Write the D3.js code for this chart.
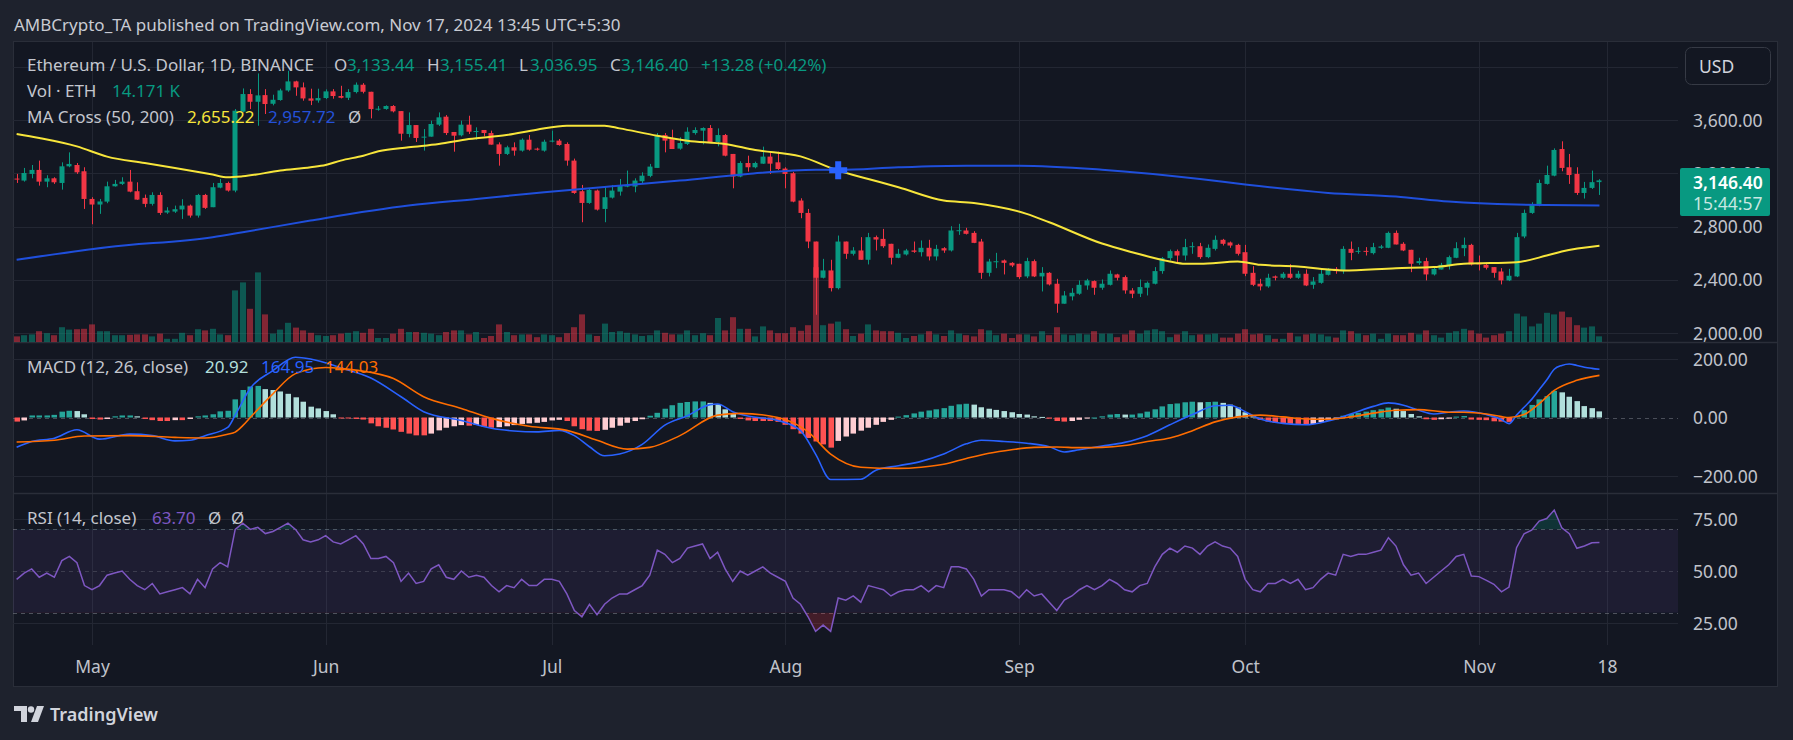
<!DOCTYPE html>
<html><head><meta charset="utf-8">
<script src="https://cdn.jsdelivr.net/npm/d3@7"></script>
<style>
html,body{margin:0;padding:0;background:#1e222d;overflow:hidden;}
svg{display:block;font-family:"Noto Sans",Roboto,sans-serif;}
</style></head><body>
<svg id="c" width="1793" height="740"></svg>
<script>
// ---------------- DATA ----------------
const firstDay = "2024-04-21";   // daily candles, Apr 21 .. Nov 17 2024
const open = [3160,3145,3195,3225,3137,3162,3127,3252,3262,3215,
3007,2965,2987,3102,3120,3137,3065,3015,2970,3037,
2905,2912,2928,2957,2882,3037,2945,3092,3127,3070,
3663,3795,3737,3787,3722,3750,3822,3890,3845,3762,
3747,3765,3815,3780,3767,3810,3865,3812,3680,3683,
3705,3667,3495,3562,3468,3475,3565,3625,3510,3485,
3565,3512,3525,3502,3417,3345,3395,3370,3452,3385,
3370,3440,3445,3420,3295,3065,2977,3070,2932,3017,
3062,3105,3100,3140,3180,3240,3487,3465,3385,3420,
3502,3520,3540,3435,3487,3345,3175,3277,3245,3272,
3325,3282,3235,3200,2995,2902,2687,2415,2470,2337,
2687,2595,2620,2550,2720,2707,2670,2565,2590,2620,
2607,2640,2575,2637,2620,2770,2770,2752,2687,2452,
2537,2545,2527,2520,2425,2540,2425,2452,2370,2220,
2275,2295,2357,2390,2340,2362,2440,2420,2320,2295,
2340,2370,2465,2562,2615,2582,2645,2652,2570,2632,
2700,2680,2662,2607,2452,2370,2350,2425,2415,2445,
2415,2445,2362,2377,2437,2482,2465,2632,2612,2617,
2600,2640,2640,2752,2670,2625,2525,2540,2440,2477,
2507,2565,2637,2662,2527,2512,2495,2462,2395,2425,
2725,2902,2957,3120,3182,3382,3245,3195,3052,3090,
3133.44];
const high = [3195,3240,3262,3295,3185,3170,3282,3357,3277,3245,
3020,3007,3137,3150,3170,3225,3132,3040,3057,3057,
2945,2957,3005,2965,3045,3045,3127,3157,3137,3682,
3837,3832,3950,3832,3790,3835,3970,3895,3882,3835,
3835,3830,3832,3857,3832,3882,3877,3812,3705,3710,
3712,3667,3657,3562,3532,3595,3657,3637,3510,3595,
3632,3545,3525,3520,3432,3407,3432,3462,3487,3392,
3452,3520,3457,3432,3310,3112,3085,3077,3097,3112,
3157,3220,3162,3207,3270,3502,3502,3527,3470,3545,
3545,3545,3562,3537,3495,3345,3290,3332,3287,3400,
3362,3362,3245,3210,3012,2932,2687,2557,2550,2732,
2687,2645,2720,2752,2732,2782,2670,2632,2632,2687,
2695,2700,2662,2645,2802,2820,2790,2765,2707,2557,
2602,2552,2532,2520,2565,2552,2495,2457,2407,2315,
2337,2395,2407,2395,2402,2470,2445,2432,2337,2402,
2387,2495,2570,2627,2627,2707,2682,2677,2665,2732,
2707,2687,2670,2662,2502,2407,2445,2432,2457,2517,
2467,2477,2420,2477,2487,2495,2652,2687,2645,2645,
2677,2662,2762,2770,2682,2625,2565,2565,2502,2527,
2582,2682,2717,2670,2582,2527,2495,2487,2482,2752,
2927,2982,3152,3257,3387,3440,3345,3245,3135,3220,
3155.41];
const low = [3127,3137,3162,3107,3095,3120,3077,3245,3195,2932,
2817,2895,2975,3100,3112,3057,3000,2945,2957,2887,
2895,2902,2857,2867,2867,2932,2945,3087,3062,3057,
3657,3682,3557,3645,3710,3745,3812,3782,3745,3712,
3730,3757,3760,3762,3750,3800,3800,3612,3670,3677,
3657,3445,3470,3435,3370,3475,3555,3487,3362,3477,
3495,3452,3477,3415,3257,3337,3332,3362,3370,3370,
3362,3432,3407,3257,3045,2832,2970,2920,2832,3010,
3032,3095,3057,3125,3170,3240,3357,3382,3377,3412,
3490,3417,3427,3402,3327,3087,3170,3212,3237,3270,
3195,3225,3087,2982,2862,2637,2137,2410,2312,2327,
2557,2582,2550,2515,2620,2640,2515,2562,2582,2602,
2575,2545,2545,2602,2612,2737,2740,2675,2407,2425,
2487,2440,2495,2407,2412,2420,2312,2357,2152,2220,
2245,2287,2325,2287,2325,2357,2395,2295,2262,2270,
2282,2365,2445,2545,2532,2545,2595,2557,2562,2620,
2657,2640,2582,2427,2352,2320,2340,2395,2407,2407,
2407,2352,2332,2370,2432,2445,2445,2547,2595,2582,
2590,2632,2637,2665,2615,2457,2512,2395,2432,2477,
2477,2562,2577,2507,2470,2477,2415,2365,2390,2420,
2712,2895,2952,3115,3177,3215,3120,3037,3010,3082,
3036.95];
const close = [3155,3202,3225,3137,3162,3132,3252,3270,3207,3007,
2965,2988,3102,3120,3137,3062,3002,2970,3037,2902,
2920,2930,2957,2882,3037,2940,3095,3127,3070,3670,
3795,3737,3785,3720,3752,3822,3890,3845,3762,3745,
3765,3815,3780,3767,3810,3865,3812,3682,3685,3705,
3665,3497,3562,3465,3475,3570,3620,3502,3482,3565,
3512,3517,3502,3415,3345,3395,3370,3452,3377,3377,
3437,3445,3412,3295,3052,2977,3075,2927,3020,3070,
3107,3107,3145,3182,3250,3487,3445,3382,3427,3512,
3525,3540,3432,3487,3332,3175,3277,3245,3277,3325,
3272,3232,3195,2987,2902,2687,2415,2470,2337,2687,
2595,2620,2550,2720,2702,2652,2565,2595,2620,2610,
2640,2575,2632,2620,2770,2772,2745,2677,2452,2537,
2539,2527,2507,2420,2540,2425,2452,2365,2220,2282,
2302,2362,2395,2340,2370,2445,2415,2320,2295,2345,
2377,2465,2562,2615,2582,2645,2652,2570,2640,2700,
2670,2657,2595,2445,2362,2350,2415,2415,2445,2415,
2445,2357,2387,2445,2482,2465,2632,2602,2617,2612,
2645,2650,2752,2665,2620,2520,2540,2440,2482,2512,
2570,2637,2662,2515,2515,2490,2452,2395,2430,2720,
2902,2962,3127,3187,3375,3240,3187,3052,3090,3133.12,
3146.40];
// volume, thousands of ETH
const volumeK = [14,17,19,27,22,17,37,31,32,33,
44,27,27,17,17,18,19,19,14,21,
8,8,23,17,32,29,33,19,17,129,
149,83,174,69,21,31,48,36,29,23,
17,15,17,21,23,27,23,33,10,10,
21,33,25,25,23,21,17,25,29,29,
19,25,10,15,44,25,17,19,19,12,
19,17,12,22,37,69,19,15,46,25,
27,23,19,15,17,29,23,19,19,29,
17,22,17,60,29,62,33,33,14,39,
29,22,22,37,28,42,187,42,46,51,
32,15,21,44,29,27,27,23,10,15,
19,27,19,15,29,21,17,14,32,29,
17,21,10,19,19,14,27,17,37,19,
17,21,19,27,21,21,12,19,29,21,
29,32,27,12,19,27,17,19,19,21,
11,11,21,32,19,21,17,8,8,23,
14,19,21,19,14,11,29,27,21,17,
21,8,21,17,17,23,19,29,17,11,
23,27,33,29,21,11,17,21,27,71,
64,39,46,73,69,76,62,42,36,39,
14.171];
const ma50Pts = [[0,3495],[3,3465],[8,3402],[12,3325],[17,3277],[21,3240],[26,3190],[28,3170],[30,3177],[35,3220],[39,3245],[41,3262],[43,3295],[46,3332],[48,3365],[52,3395],[56,3420],[60,3457],[65,3487],[69,3527],[73,3557],[78,3557],[80,3537],[85,3482],[89,3445],[94,3420],[98,3375],[104,3327],[109,3220],[113,3157],[117,3095],[123,2995],[127,2977],[134,2895],[137,2832],[144,2672],[148,2607],[153,2537],[155,2520],[157,2520],[162,2537],[165,2512],[170,2500],[174,2477],[176,2470],[183,2487],[188,2495],[192,2520],[199,2532],[203,2582],[205,2612],[210,2655.22]];
const ma200Pts = [[0,2550],[12,2645],[26,2720],[30,2757],[39,2845],[52,2957],[61,3007],[70,3057],[79,3102],[88,3145],[97,3195],[106,3227],[109,3225],[117,3245],[126,3257],[133,3257],[144,3227],[157,3157],[163,3115],[174,3052],[183,3025],[190,2987],[199,2965],[203,2962],[210,2957.72]];
const crossPt = [109, 3222];
const macdHist = [-14,-10,7,7,7,9,20,23,22,11,
-5,-7,-5,4,7,7,4,-5,-9,-12,
-12,-9,-9,-5,4,7,11,21,23,62,
94,106,108,97,94,89,81,69,54,37,
31,22,11,-2,-3,-5,-7,-20,-30,-35,
-41,-49,-55,-61,-61,-55,-44,-35,-30,-26,
-28,-25,-32,-35,-33,-30,-26,-22,-20,-18,
-15,-10,-8,-12,-30,-40,-45,-46,-42,-35,
-28,-18,-12,-6,6,16,30,42,50,53,
55,55,50,45,28,12,-5,-10,-12,-12,
-12,-15,-25,-40,-55,-70,-82,-92,-103,-80,
-65,-55,-45,-35,-25,-15,-8,3,8,14,
20,24,28,32,40,45,47,44,35,30,
26,22,18,12,10,4,2,-4,-12,-14,
-12,-8,-3,0,4,10,12,10,10,14,
20,28,38,46,48,52,54,52,53,54,
50,44,34,18,4,-8,-14,-18,-20,-22,
-22,-25,-22,-16,-10,-6,6,12,16,20,
25,28,34,30,22,12,4,-6,-8,-6,
-4,3,5,-7,-8,-9,-13,-14,-15,4,
25,43,62,73,91,86,71,56,39,32,
20.92];
const macdPts = [[0,-102],[2,-82],[5,-71],[8,-42],[11,-74],[15,-57],[18,-62],[21,-80],[23,-78],[25,-62],[28,-34],[29,8],[31,100],[34,160],[37,206],[39,200],[43,170],[47,135],[51,71],[54,20],[59,-10],[63,-37],[66,-46],[69,-49],[72,-44],[74,-62],[76,-100],[78,-131],[80,-125],[83,-92],[86,-26],[89,6],[92,44],[93,46],[95,20],[97,5],[101,-10],[104,-45],[106,-125],[108,-212],[112,-211],[114,-180],[117,-165],[120,-150],[123,-125],[126,-90],[128,-78],[131,-82],[134,-88],[137,-100],[139,-118],[141,-110],[144,-98],[147,-85],[150,-62],[153,-25],[156,10],[159,40],[161,42],[163,20],[165,-5],[168,-20],[171,-25],[174,-12],[177,12],[180,38],[182,50],[184,42],[186,25],[188,12],[190,18],[192,22],[195,10],[197,-7],[198,-21],[199,8],[200,35],[201,62],[202,95],[203,128],[204,165],[205,178],[206,183],[207,178],[208,172],[209,168],[210,164.95]];
const signalPts = [[0,-84],[5,-78],[9,-63],[15,-62],[21,-68],[25,-70],[28,-57],[29,-50],[30,-28],[31,0],[34,81],[37,150],[41,171],[45,162],[50,133],[54,71],[59,31],[63,-3],[68,-30],[73,-44],[77,-78],[81,-108],[84,-102],[88,-62],[93,8],[96,14],[101,0],[105,-49],[108,-125],[112,-170],[117,-174],[120,-170],[123,-160],[126,-140],[129,-122],[132,-110],[135,-102],[138,-101],[141,-103],[144,-102],[147,-96],[150,-82],[153,-70],[156,-45],[159,-15],[162,2],[165,8],[168,2],[171,-5],[174,-6],[177,2],[180,15],[183,25],[186,27],[189,20],[190,18],[192,18],[195,12],[197,3],[198,0],[200,10],[202,47],[204,93],[207,127],[210,144.03]];
const rsi = [46,49,51,47,49,47,55,57,54,43,
41,43,48,49,50,46,43,41,44,39,
40,41,42,39,46,42,51,54,52,70,
73,70,71,68,69,71,73,70,65,64,
65,67,64,63,65,67,63,56,56,57,
54,45,49,44,45,51,53,47,46,50,
47,48,47,43,40,43,42,46,43,43,
46,46,45,39,31,28,34,29,34,37,
39,39,41,43,48,60,58,54,56,61,
62,63,56,59,51,45,50,48,50,52,
49,47,45,37,34,28,21,24,21,37,
36,38,35,43,42,41,38,40,41,41,
43,40,43,42,52,52,51,46,38,41,
41,41,40,37,41,38,39,35,31,36,
38,41,43,41,43,46,44,41,40,43,
44,52,58,61,59,62,61,58,62,64,
62,61,57,46,41,40,44,44,46,44,
46,41,42,46,49,48,58,57,58,58,
59,60,66,62,53,48,49,44,47,50,
53,57,58,47.6,47.3,45.5,43.6,40,42.3,61.2,
67.9,69.6,74,75.2,79.3,70.8,67.9,60.9,62,63.6,
63.7];
const priceTicks = [2000,2400,2800,3200,3600];
const macdTicks = [-200,0,200];
const rsiTicks = [25,50,75];
const timeTicks = ["2024-05-01","2024-06-01","2024-07-01","2024-08-01","2024-09-01","2024-10-01","2024-11-01","2024-11-18"];
const timeTickLabels = ["May","Jun","Jul","Aug","Sep","Oct","Nov","18"];
const headerText = "AMBCrypto_TA published on TradingView.com, Nov 17, 2024 13:45 UTC+5:30";
const countdown = "15:44:57";

// ---------------- LAYOUT ----------------
const W = 1793, H = 740;
const L = 13, R = 1678, FR = 1778;
const pricePane = {top: 42, bottom: 342};
const macdPane = {top: 343, bottom: 493};
const rsiPane = {top: 494, bottom: 645};
const C = {up:"#089981", down:"#f23645", grid:"#232733", sep:"#2a2e39", text:"#c3c6ce", axis:"#c0c3cb",
  ma50:"#f7e53b", ma200:"#1f4fdc", macd:"#2962ff", signal:"#ff6d00", rsi:"#7e57c2"};

const parse = d3.utcParse("%Y-%m-%d");
const day0 = parse(firstDay);
const days = d3.utcDay.range(day0, d3.utcDay.offset(day0, close.length));
const dOf = i => d3.utcDay.offset(day0, i);

const x = d3.scaleUtc().domain([parse("2024-05-01"), parse("2024-11-18")]).range([92, 1607]);
const y = d3.scaleLinear().domain([2000, 3600]).range([333, 120]);
const yVol = d3.scaleLinear().domain([0, 175]).range([342, 272]);
const yM = d3.scaleLinear().domain([-200, 200]).range([476, 359]);
const yR = d3.scaleLinear().domain([25, 75]).range([623, 519]);
const fmt = d3.format(",.2f");

const svg = d3.select("#c");
const defs = svg.append("defs");
function clip(id, p){ defs.append("clipPath").attr("id", id).append("rect").attr("x", L).attr("y", p.top).attr("width", R-L).attr("height", p.bottom-p.top); }
clip("cp", pricePane); clip("cm", macdPane); clip("cr", rsiPane);
defs.append("clipPath").attr("id","cob").append("rect").attr("x",L).attr("y",rsiPane.top).attr("width",R-L).attr("height",yR(70)-rsiPane.top);
defs.append("clipPath").attr("id","cos").append("rect").attr("x",L).attr("y",yR(30)).attr("width",R-L).attr("height",rsiPane.bottom-yR(30));

svg.append("rect").attr("width", W).attr("height", H).attr("fill", "#1e222d");
svg.append("rect").attr("x", L+0.5).attr("y", 41.5).attr("width", FR-L-1).attr("height", 645).attr("fill", "#131722").attr("stroke", C.sep);

// header & footer
svg.append("text").attr("x", 14).attr("y", 24).attr("dominant-baseline","central").attr("font-size", 17).attr("fill", "#c8cbd3").text(headerText);
const logo = svg.append("g").attr("fill", "#d1d4dc");
logo.append("path").attr("d","M14,706 H27 V722 H21 V711 H14 Z");
logo.append("circle").attr("cx", 31).attr("cy", 709.5).attr("r", 3.2);
logo.append("path").attr("d","M37,706 H44 L38,722 H31 Z");
svg.append("text").attr("x", 50).attr("y", 714).attr("dominant-baseline","central").attr("font-size", 18).attr("font-weight", 600).attr("fill", "#d1d4dc").text("TradingView");

// grid
const gGrid = svg.append("g").attr("stroke", C.grid).attr("stroke-width", 1);
timeTicks.forEach(t => { const xx = Math.round(x(parse(t)))+0.5; gGrid.append("line").attr("x1",xx).attr("x2",xx).attr("y1",pricePane.top).attr("y2",rsiPane.bottom); });
[2000,2400,2800,3200,3600,4000].forEach(v => { const yy = Math.round(y(v))+0.5; gGrid.append("line").attr("x1",L).attr("x2",R).attr("y1",yy).attr("y2",yy); });
[-200,200].forEach(v => { const yy = Math.round(yM(v))+0.5; gGrid.append("line").attr("x1",L).attr("x2",R).attr("y1",yy).attr("y2",yy); });
[25,75].forEach(v => { const yy = Math.round(yR(v))+0.5; gGrid.append("line").attr("x1",L).attr("x2",R).attr("y1",yy).attr("y2",yy); });

// pane separators
[342, 493].forEach(v => svg.append("line").attr("x1",L).attr("x2",FR).attr("y1",v+0.5).attr("y2",v+0.5).attr("stroke",C.sep).attr("stroke-width",1.5));

// ---------------- PRICE PANE ----------------
const gP = svg.append("g").attr("clip-path","url(#cp)");
const cx = i => Math.round(x(days[i])) + 0.5;
gP.selectAll("rect.vol").data(volumeK).join("rect").attr("class","vol")
  .attr("x", (v,i) => cx(i)-3.5).attr("width", 6)
  .attr("y", v => yVol(v)).attr("height", v => 342 - yVol(v))
  .attr("fill", (v,i) => close[i] >= open[i] ? "rgba(8,153,129,0.5)" : "rgba(242,54,69,0.5)");
const candles = gP.selectAll("g.c").data(close).join("g").attr("class","c");
candles.append("line").attr("x1",(v,i)=>cx(i)).attr("x2",(v,i)=>cx(i))
  .attr("y1",(v,i)=>y(high[i])).attr("y2",(v,i)=>y(low[i]))
  .attr("stroke",(v,i)=> close[i]>=open[i]?C.up:C.down).attr("stroke-width",1);
candles.append("rect").attr("x",(v,i)=>cx(i)-3).attr("width",5)
  .attr("y",(v,i)=>y(Math.max(open[i],close[i])))
  .attr("height",(v,i)=>Math.max(1, Math.abs(y(open[i])-y(close[i]))))
  .attr("fill",(v,i)=> close[i]>=open[i]?C.up:C.down);
const lineP = d3.line().x(d => x(dOf(d[0]))).y(d => y(d[1])).curve(d3.curveMonotoneX);
gP.append("path").attr("d", lineP(ma200Pts)).attr("fill","none").attr("stroke",C.ma200).attr("stroke-width",2);
gP.append("path").attr("d", lineP(ma50Pts)).attr("fill","none").attr("stroke",C.ma50).attr("stroke-width",2);
gP.append("path").attr("d", d3.symbol(d3.symbolCross, 180)()).attr("transform",`translate(${x(dOf(crossPt[0]))},${y(crossPt[1])})`).attr("fill","#2962ff");

// ---------------- MACD PANE ----------------
const gM = svg.append("g").attr("clip-path","url(#cm)");
gM.append("line").attr("x1",L).attr("x2",R).attr("y1",Math.round(yM(0))+0.5).attr("y2",Math.round(yM(0))+0.5)
  .attr("stroke","#787b86").attr("stroke-opacity",0.55).attr("stroke-dasharray","4,4");
function histColor(v,i){ const p = i>0 ? macdHist[i-1] : v; if (v>=0) return v>=p ? "#26a69a" : "#b2dfdb"; return v<=p ? "#ff5252" : "#ffcdd2"; }
gM.selectAll("rect.h").data(macdHist).join("rect").attr("class","h")
  .attr("x",(v,i)=>cx(i)-3).attr("width",5.5)
  .attr("y", v => Math.min(yM(v), yM(0))).attr("height", v => Math.max(1, Math.abs(yM(v)-yM(0))))
  .attr("fill", histColor);
const lineM = d3.line().x(d => x(dOf(d[0]))).y(d => yM(d[1])).curve(d3.curveMonotoneX);
gM.append("path").attr("d", lineM(macdPts)).attr("fill","none").attr("stroke",C.macd).attr("stroke-width",1.6);
gM.append("path").attr("d", lineM(signalPts)).attr("fill","none").attr("stroke",C.signal).attr("stroke-width",1.6);

// ---------------- RSI PANE ----------------
const gR = svg.append("g").attr("clip-path","url(#cr)");
gR.append("rect").attr("x",L).attr("width",R-L).attr("y",yR(70)).attr("height",yR(30)-yR(70)).attr("fill","rgba(126,87,194,0.1)");
[[70,0.6],[50,0.35],[30,0.6]].forEach(([v,o]) => gR.append("line").attr("x1",L).attr("x2",R).attr("y1",Math.round(yR(v))+0.5).attr("y2",Math.round(yR(v))+0.5)
  .attr("stroke","#787b86").attr("stroke-opacity",o).attr("stroke-dasharray","4,4"));
const rx = (v,i) => x(days[i]);
gR.append("path").attr("clip-path","url(#cob)").attr("d", d3.area().x(rx).y0(yR(70)).y1(v=>yR(v))(rsi)).attr("fill","rgba(8,153,129,0.22)");
gR.append("path").attr("clip-path","url(#cos)").attr("d", d3.area().x(rx).y0(yR(30)).y1(v=>yR(v))(rsi)).attr("fill","rgba(242,54,69,0.22)");
gR.append("path").attr("d", d3.line().x(rx).y(v=>yR(v))(rsi)).attr("fill","none").attr("stroke",C.rsi).attr("stroke-width",1.5);

// ---------------- AXES ----------------
function styleAxis(g){ g.select(".domain").remove(); g.selectAll(".tick line").remove();
  g.selectAll("text").attr("fill",C.axis).attr("font-size",17.5).attr("font-family",'"Noto Sans",Roboto,sans-serif').attr("dy","0.35em"); }
svg.append("g").attr("transform","translate(1693,0)").call(d3.axisRight(y).tickValues(priceTicks).tickSize(0).tickPadding(0).tickFormat(fmt)).call(styleAxis);
svg.append("g").attr("transform","translate(1693,0)").call(d3.axisRight(yM).tickValues(macdTicks).tickSize(0).tickPadding(0).tickFormat(fmt)).call(styleAxis);
svg.append("g").attr("transform","translate(1693,0)").call(d3.axisRight(yR).tickValues(rsiTicks).tickSize(0).tickPadding(0).tickFormat(fmt)).call(styleAxis);
const tAxis = svg.append("g").attr("transform","translate(0,667)")
  .call(d3.axisBottom(x).tickValues(timeTicks.map(parse)).tickSize(0).tickPadding(0).tickFormat((d,i)=>timeTickLabels[i])).call(styleAxis);
tAxis.selectAll("text").attr("y",0);

// last price tag
const last = close.length-1;
svg.append("rect").attr("x",1680).attr("y",168).attr("width",90).attr("height",48).attr("rx",2).attr("fill",C.up);
svg.append("text").attr("x",1693).attr("y",181.5).attr("dominant-baseline","central").attr("font-size",17.5).attr("font-weight",600).attr("fill","#ffffff").text(fmt(close[last]));
svg.append("text").attr("x",1693).attr("y",202.5).attr("dominant-baseline","central").attr("font-size",17.5).attr("fill","rgba(255,255,255,0.78)").text(countdown);
// currency button
svg.append("rect").attr("x",1685.5).attr("y",47.5).attr("width",85).attr("height",37).attr("rx",6).attr("fill","#131722").attr("stroke","#363a45");
svg.append("text").attr("x",1699).attr("y",66).attr("dominant-baseline","central").attr("font-size",17.5).attr("fill","#d1d4dc").text("USD");

// ---------------- LEGENDS ----------------
function leg(yy, parts){ parts.forEach(([xx, s, col]) => svg.append("text").attr("x",xx).attr("y",yy).attr("dominant-baseline","central").attr("font-size",17).attr("fill",col).text(s)); }
const chg = close[last]-close[last-1];
leg(64, [[27,"Ethereum / U.S. Dollar, 1D, BINANCE",C.text],[334,"O",C.text],[347,fmt(open[last]),C.up],[427,"H",C.text],[440,fmt(high[last]),C.up],
  [519,"L",C.text],[530,fmt(low[last]),C.up],[610,"C",C.text],[621,fmt(close[last]),C.up],[701,"+"+fmt(chg)+" (+"+(chg/close[last-1]*100).toFixed(2)+"%)",C.up]]);
leg(90, [[27,"Vol · ETH",C.text],[112,d3.format(".3f")(volumeK[last])+" K",C.up]]);
leg(116, [[27,"MA Cross (50, 200)",C.text],[187,fmt(ma50Pts[ma50Pts.length-1][1]),C.ma50],[268,fmt(ma200Pts[ma200Pts.length-1][1]),"#2451d8"],[348,"Ø",C.text]]);
leg(366, [[27,"MACD (12, 26, close)",C.text],[205,fmt(macdHist[last]),"#b2dfdb"],[261,fmt(macdPts[macdPts.length-1][1]),C.macd],[325,fmt(signalPts[signalPts.length-1][1]),C.signal]]);
leg(517, [[27,"RSI (14, close)",C.text],[152,fmt(rsi[last]),C.rsi],[208,"Ø",C.text],[231,"Ø",C.text]]);
</script></body></html>
